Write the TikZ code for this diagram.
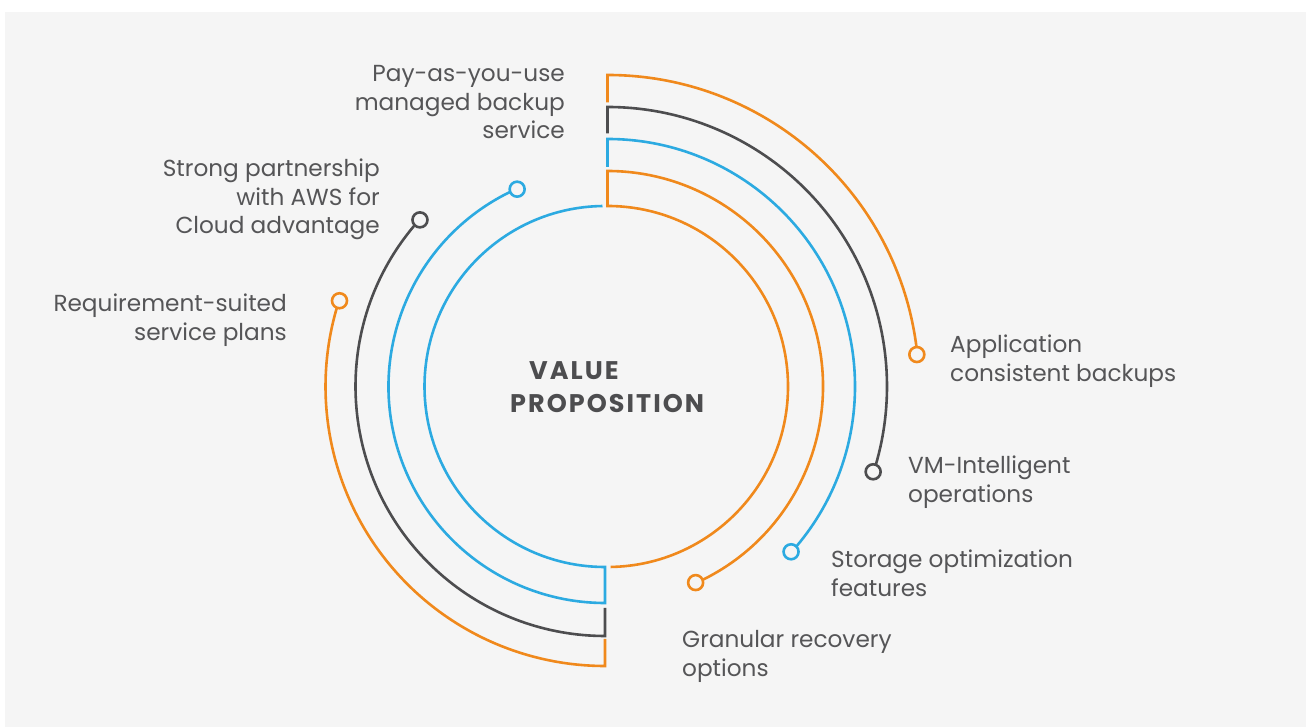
\documentclass[tikz,border=0pt]{standalone}
\usepackage{fontspec}
\setmainfont{Poppins}
\newfontfamily\titlefont{Poppins}[LetterSpace=8]
\definecolor{vorange}{RGB}{240,137,28}
\definecolor{vblue}{RGB}{44,170,225}
\definecolor{vgray}{RGB}{77,77,79}
\definecolor{vtext}{RGB}{85,85,87}
\definecolor{vbg}{RGB}{245,245,245}
\tikzset{
  ring/.style={line width=2.6pt},
  ringdot/.style={circle, draw, line width=2.6pt, minimum size=15pt, inner sep=0pt, fill=vbg},
  lbl/.style={font=\fontsize{23.2}{28.5}\selectfont, text=vtext, inner sep=0pt},
  lblr/.style={lbl, align=right, anchor=base east},
  lbll/.style={lbl, align=left, anchor=base west},
  ttl/.style={font=\titlefont\fontsize{25.5}{28}\selectfont\bfseries, text=vgray, inner sep=0pt, anchor=base west}
}
\begin{document}
\begin{tikzpicture}[x=1pt,y=1pt]
\useasboundingbox (0,0) rectangle (1306,727);
\fill[white] (0,0) rectangle (1306,727);
\fill[vbg] (5,0) rectangle (1306,715);
\coordinate (C) at (606,340.5);
% right group
\begin{scope}[shift={(607.5,340.5)}]
  \draw[ring, vorange] (90:284) -- (90:311.5) arc[start angle=90, end angle=7.4, radius=311.5];
  \node[ringdot, draw=vorange] (d1) at (5.9:311) {};
  \draw[ring, vgray] (90:253) -- (90:279.5) arc[start angle=90, end angle=-16.1, radius=279.5];
  \node[ringdot, draw=vgray] (d2) at (-17.8:279) {};
  \draw[ring, vblue] (90:219.5) -- (90:247.5) arc[start angle=90, end angle=-40.1, radius=247.5];
  \node[ringdot, draw=vblue] (d3) at (-42:247) {};
  \draw[ring, vorange] (-63.7:215.5) arc[start angle=-63.7, end angle=90, radius=215.5] -- (90:180.5) arc[start angle=90, end angle=-89, radius=180.5];
  \node[ringdot, draw=vorange] (d4) at (-65.8:215) {};
\end{scope}
% left group
\begin{scope}[shift={(605,340.5)}]
  \draw[ring, vblue] (116.1:216.5) arc[start angle=116.1, end angle=270, radius=216.5] -- (270:180.5) arc[start angle=270, end angle=90.8, radius=180.5];
  \node[ringdot, draw=vblue] (d5) at (114:216) {};
  \draw[ring, vgray] (139.9:249.5) arc[start angle=139.9, end angle=270, radius=249.5] -- (270:221.5);
  \node[ringdot, draw=vgray] (d6) at (138:249) {};
  \draw[ring, vorange] (163.7:279.5) arc[start angle=163.7, end angle=270, radius=279.5] -- (270:252.5);
  \node[ringdot, draw=vorange] (d7) at (162.1:279) {};
\end{scope}
% labels (anchor = baseline of last line)
\node[lblr] (t5) at (565,588) {Pay-as-you-use\\managed backup\\service};
\node[lblr] (t6) at (380,493) {Strong partnership\\with AWS for\\Cloud advantage};
\node[lblr] (t7) at (287,386.5) {Requirement-suited\\service plans};
\node[lbll] (t1) at (950,345.5) {Application\\consistent backups};
\node[lbll] (t2) at (908,224.5) {VM-Intelligent\\operations};
\node[lbll] (t3) at (831,130.5) {Storage optimization\\features};
\node[lbll] (t4) at (682,50.5) {Granular recovery\\options};
\node[ttl] (v1) at (529,347) {VALUE};
\node[ttl] (v2) at (510,314) {PROPOSITION};
\end{tikzpicture}
\end{document}
